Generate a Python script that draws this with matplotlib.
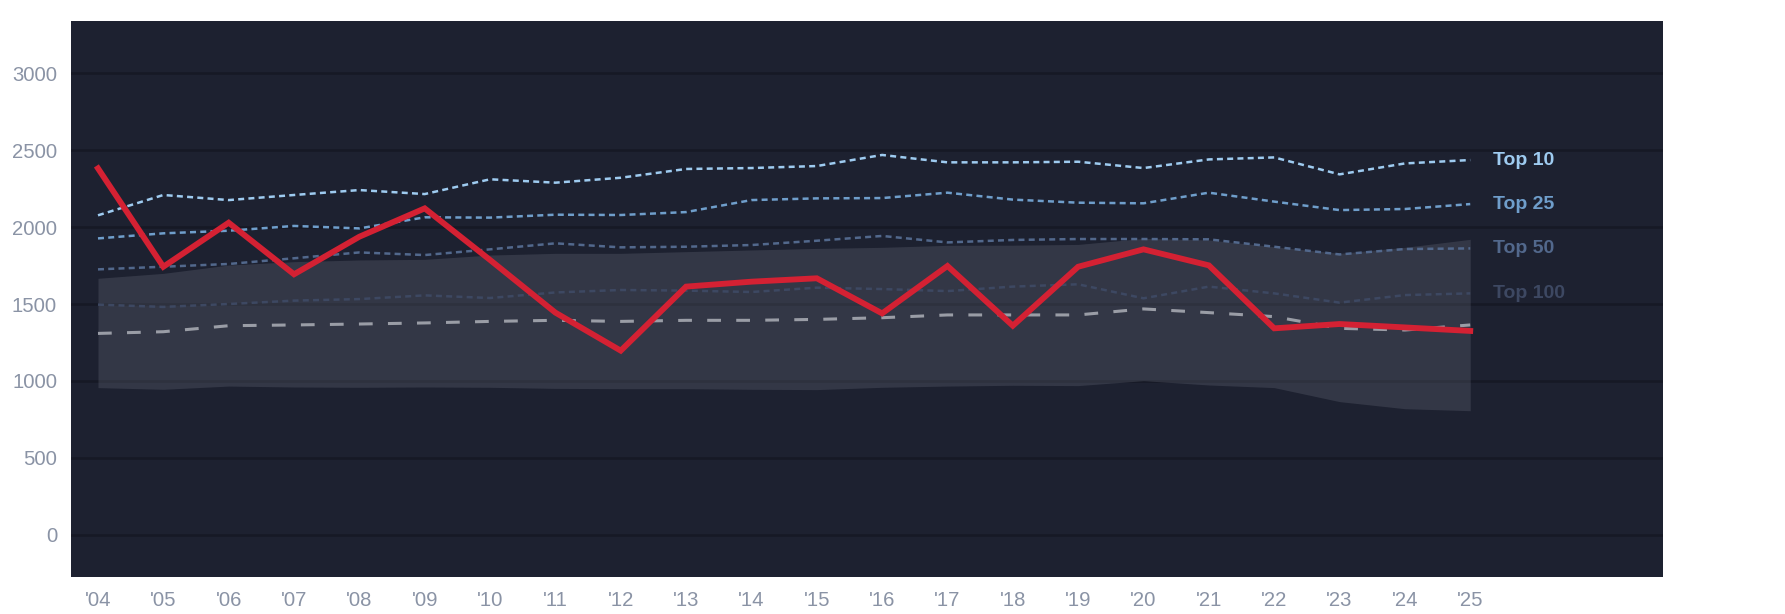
import numpy as np
import matplotlib.pyplot as plt

plt.rcParams['font.family'] = ['Liberation Sans', 'DejaVu Sans']

years = list(range(2004, 2026))
year_labels = ["'%02d" % (y % 100) for y in years]

player = [2381, 1742, 2028, 1693, 1937, 2121, 1786, 1444, 1197, 1613, 1645,
          1667, 1439, 1747, 1359, 1742, 1855, 1751, 1342, 1370, 1348, 1325]
top10 = [2076, 2208, 2175, 2208, 2240, 2214, 2310, 2288, 2320, 2377, 2383,
         2396, 2468, 2420, 2420, 2424, 2383, 2439, 2452, 2342, 2413, 2435]
top25 = [1926, 1959, 1976, 2007, 1991, 2063, 2061, 2080, 2078, 2097, 2175,
         2186, 2188, 2223, 2178, 2158, 2154, 2223, 2165, 2110, 2117, 2149]
top50 = [1725, 1742, 1760, 1797, 1835, 1818, 1855, 1894, 1868, 1872, 1883,
         1911, 1942, 1900, 1916, 1922, 1922, 1920, 1872, 1822, 1857, 1861]
top100 = [1496, 1481, 1500, 1522, 1532, 1556, 1539, 1575, 1591, 1587, 1578,
          1606, 1597, 1584, 1613, 1628, 1537, 1613, 1569, 1509, 1558, 1569]
median = [1309, 1320, 1359, 1364, 1370, 1377, 1387, 1394, 1387, 1394, 1394,
          1400, 1411, 1429, 1429, 1429, 1468, 1444, 1418, 1342, 1331, 1364]
band_hi = [1667, 1699, 1753, 1775, 1786, 1790, 1818, 1829, 1829, 1840, 1851,
           1861, 1868, 1881, 1882, 1887, 1926, 1916, 1872, 1829, 1868, 1920]
band_lo = [957, 946, 967, 961, 959, 961, 959, 952, 950, 950, 946,
           944, 959, 967, 972, 970, 1002, 974, 957, 866, 820, 807]

tiers = [
    ('Top 10', top10, '#9ecbf0'),
    ('Top 25', top25, '#6f9ecb'),
    ('Top 50', top50, '#52688c'),
    ('Top 100', top100, '#3d4862'),
]

fig = plt.figure(figsize=(17.85, 6.14), dpi=100)
fig.patch.set_facecolor('white')
ax = fig.add_axes([71 / 1785, 1 - 577 / 614, (1663 - 71) / 1785, (577 - 21) / 614])
ax.set_facecolor('#1d2130')

ax.set_yticks(range(0, 3001, 500))
ax.grid(axis='y', color='#161925', linewidth=1.8, zorder=0)
ax.set_axisbelow(True)

ax.fill_between(years, band_lo, band_hi, color='#767a89', alpha=0.25,
                linewidth=0, zorder=1)

ax.plot(years, median, color='#9a9da6', linewidth=2.2,
        linestyle=(0, (4.5, 5)), zorder=2)

for name, vals, col in tiers:
    ax.plot(years, vals, color=col, linewidth=1.8,
            linestyle=(0, (2.4, 1.7)), zorder=2)
    ax.annotate(name, xy=(years[-1], vals[-1]), xytext=(16.5, 0),
                textcoords='offset points', va='center', ha='left',
                color=col, fontsize=14, fontweight='bold')

ax.plot(years, player, color='#d42133', linewidth=4.2,
        solid_joinstyle='miter', zorder=3)

ax.set_xlim(2003.587, 2027.95)
ax.set_ylim(-273, 3338)
ax.set_xticks(years)
ax.set_xticklabels(year_labels)

ax.tick_params(axis='both', length=0, labelsize=14.6, labelcolor='#8a93a5')
ax.tick_params(axis='y', pad=10)
ax.tick_params(axis='x', pad=10)
for s in ax.spines.values():
    s.set_visible(False)

fig.savefig('out.png', dpi=100)
